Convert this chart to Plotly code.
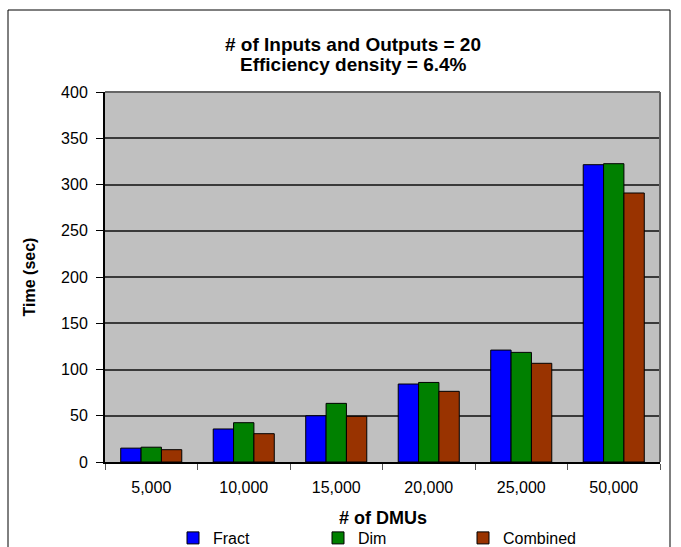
import plotly.graph_objects as go

categories = ["5,000", "10,000", "15,000", "20,000", "25,000", "50,000"]
fract = [15, 35.7, 50, 84.3, 121, 321.4]
dim = [16, 42.5, 63.4, 86, 118.5, 322.5]
combined = [13.3, 30.6, 49.4, 76.4, 106.7, 290.8]

series = [("Fract", fract, "#0000FF"), ("Dim", dim, "#008000"), ("Combined", combined, "#993300")]
title_lines = ["# of Inputs and Outputs = 20", "Efficiency density = 6.4%"]
x_title = "# of DMUs"
y_title = "Time (sec)"

FONT = "Liberation Sans, Arial, sans-serif"

L, R, T, B = 105, 21, 92, 85
W, H = 681, 547
PW, PH = W - L - R, H - T - B

fig = go.Figure()
for name, vals, col in series:
    fig.add_trace(go.Bar(
        x=categories, y=vals, name=name,
        marker=dict(color=col, line=dict(color="black", width=1)),
    ))

fig.update_layout(
    width=W, height=H,
    margin=dict(l=L, r=R, t=T, b=B, autoexpand=False),
    paper_bgcolor="white",
    plot_bgcolor="#C0C0C0",
    barmode="group",
    bargap=0.34,
    bargroupgap=0,
    font=dict(family=FONT, size=16, color="black"),
    xaxis=dict(
        showline=True, linecolor="black", linewidth=2,
        ticks="outside", tickson="boundaries", ticklen=6, tickcolor="#555555",
        tickfont=dict(size=16), ticklabelstandoff=10,
        showgrid=False, mirror=False, automargin=False,
    ),
    yaxis=dict(
        title=dict(text=f"<b>{y_title}</b>", font=dict(size=16), standoff=21),
        range=[0, 400], dtick=50,
        showline=True, linecolor="black", linewidth=2,
        ticks="outside", ticklen=7, tickcolor="black",
        tickfont=dict(size=16), ticklabelstandoff=5,
        showgrid=True, gridcolor="#3a3a3a", gridwidth=1.5,
        zeroline=False, automargin=False,
    ),
    legend=dict(
        orientation="h", xref="paper", x=(173 - L) / PW, xanchor="left",
        yref="container", y=1 - 538 / H, yanchor="middle",
        entrywidth=100, entrywidthmode="pixels",
        itemwidth=30, bgcolor="rgba(0,0,0,0)",
        font=dict(size=16),
    ),
    showlegend=True,
)

# x-axis title
fig.add_annotation(
    text=f"<b>{x_title}</b>", xref="paper", yref="paper",
    x=0.5, y=(H - B - 518) / PH, xanchor="center", yanchor="middle",
    showarrow=False, font=dict(family=FONT, size=18, color="black"),
)

# two-line chart title
for line, ypix in zip(title_lines, [44, 64]):
    fig.add_annotation(
        text=f"<b>{line}</b>", xref="paper", yref="paper",
        x=(353 - L) / PW, y=(H - B - ypix) / PH,
        xanchor="center", yanchor="middle", showarrow=False,
        font=dict(family=FONT, size=19, color="black"),
    )

# plot area top/right border
fig.add_shape(type="line", xref="paper", yref="paper", x0=0, x1=1, y0=1, y1=1,
              line=dict(color="#666666", width=2))
fig.add_shape(type="line", xref="paper", yref="paper", x0=1, x1=1, y0=0, y1=1,
              line=dict(color="#666666", width=2))
# outer chart border
fig.add_shape(type="rect", xref="paper", yref="paper",
              x0=(8 - L) / PW, x1=(670 - L) / PW,
              y0=-0.5, y1=(H - B - 10) / PH,
              line=dict(color="black", width=1), fillcolor="rgba(0,0,0,0)", layer="below")

fig.write_html("out.html")
